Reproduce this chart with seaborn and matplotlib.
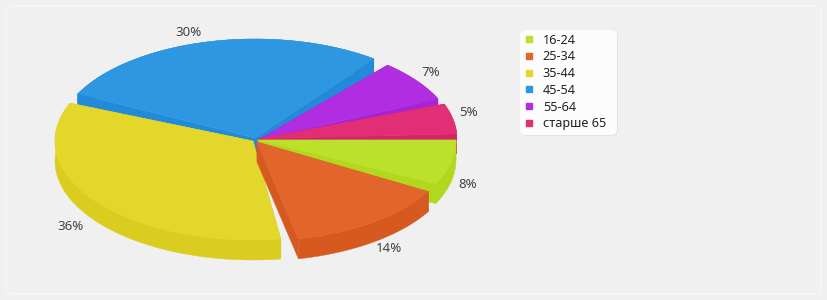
import numpy as np
import seaborn as sns
import matplotlib.pyplot as plt
from matplotlib.lines import Line2D
from matplotlib.patches import FancyBboxPatch, Polygon

categories = ["16-24", "25-34", "35-44", "45-54", "55-64", "старше 65"]
# arc shares as measured on the picture, printed labels are kept apart
shares = [7.8, 14.4, 34.6, 29.0, 7.9, 6.3]
printed_percent = [8, 14, 36, 30, 7, 5]
top_colors = ["#BBE12B", "#E2652C", "#E2D72A", "#2E97E2", "#B02DE2", "#E22E75"]
wall_colors = ["#B2D81E", "#D65A20", "#DBCD1F", "#2389D9", "#A823D6", "#D6246A"]

# pie layout in pixels
RX, RY, DEPTH = 198, 99, 20
GAP = 2
centers = [(258, 140), (257, 142), (253, 141), (255, 138), (258, 140), (259, 139)]
label_xy = [(468, 185), (389, 249), (70, 227), (189, 32), (431, 72), (469, 113)]
draw_order = [3, 4, 5, 0, 2, 1]


def rim(center, a0, a1, dy=0):
    t = np.radians(np.linspace(a0, a1, 80))
    return np.column_stack([center[0] + RX * np.cos(t), center[1] + RY * np.sin(t) + dy])


def draw_slice(ax, center, a0, a1, top, wall):
    c = np.array(center, dtype=float)
    down = np.array([0, DEPTH])
    ring = rim(center, a0, a1)
    for p in (ring[0], ring[-1]):
        quad = [c, p, p + down, c + down]
        ax.add_patch(Polygon(quad, fc=wall, ec=wall, lw=0.3))
    outer = np.vstack([ring, rim(center, a1, a0, DEPTH)])
    ax.add_patch(Polygon(outer, fc=wall, ec=wall, lw=0.3))
    ax.add_patch(Polygon(np.vstack([c, ring]), fc=top, ec=top, lw=0.3))


sns.set_theme(style="white")
plt.rcParams["font.family"] = ["Noto Sans", "DejaVu Sans"]

fig, ax = plt.subplots(figsize=(8.27, 3), dpi=100, facecolor="#F0F0F0")
ax.set_position([0, 0, 1, 1])
ax.set_xlim(0, 827)
ax.set_ylim(300, 0)
ax.axis("off")

# thin rounded frame round the plot
ax.add_patch(FancyBboxPatch((6, 6), 815, 288, boxstyle="round,pad=0,rounding_size=6",
                            fc="none", ec="#F5F5F5", lw=1.2))

palette = sns.color_palette(top_colors)
walls = sns.color_palette(wall_colors)
edges = np.cumsum([0] + shares) * 3.6
for i in draw_order:
    a0 = edges[i] + (GAP if i > 0 else 0)
    a1 = edges[i + 1] - (GAP if i < len(shares) - 1 else 3)
    draw_slice(ax, centers[i], a0, a1, palette[i], walls[i])

for (x, y), value in zip(label_xy, printed_percent):
    ax.text(x, y, f"{value}%", ha="center", va="center", fontsize=9.6, color="#444444")

# legend box with a soft shadow
ax.add_patch(FancyBboxPatch((521, 31), 97, 105, boxstyle="round,pad=0,rounding_size=6",
                            fc="#E4E4E4", ec="none"))
ax.add_patch(FancyBboxPatch((520, 30), 97, 105, boxstyle="round,pad=0,rounding_size=6",
                            fc="#FCFCFC", ec="none"))
handles = [Line2D([], [], ls="", marker="s", ms=4.2, mfc=c, mec=c) for c in palette]
ax.legend(handles, categories, loc="upper left", bbox_to_anchor=(520 / 827, 1 - 31 / 300),
          frameon=False, fontsize=9.1, labelspacing=0.3, handlelength=1.0, handletextpad=0.6,
          borderpad=0.2, borderaxespad=0, labelcolor="#222222")

fig.savefig("out.png", dpi=100, facecolor=fig.get_facecolor())
plt.close(fig)
